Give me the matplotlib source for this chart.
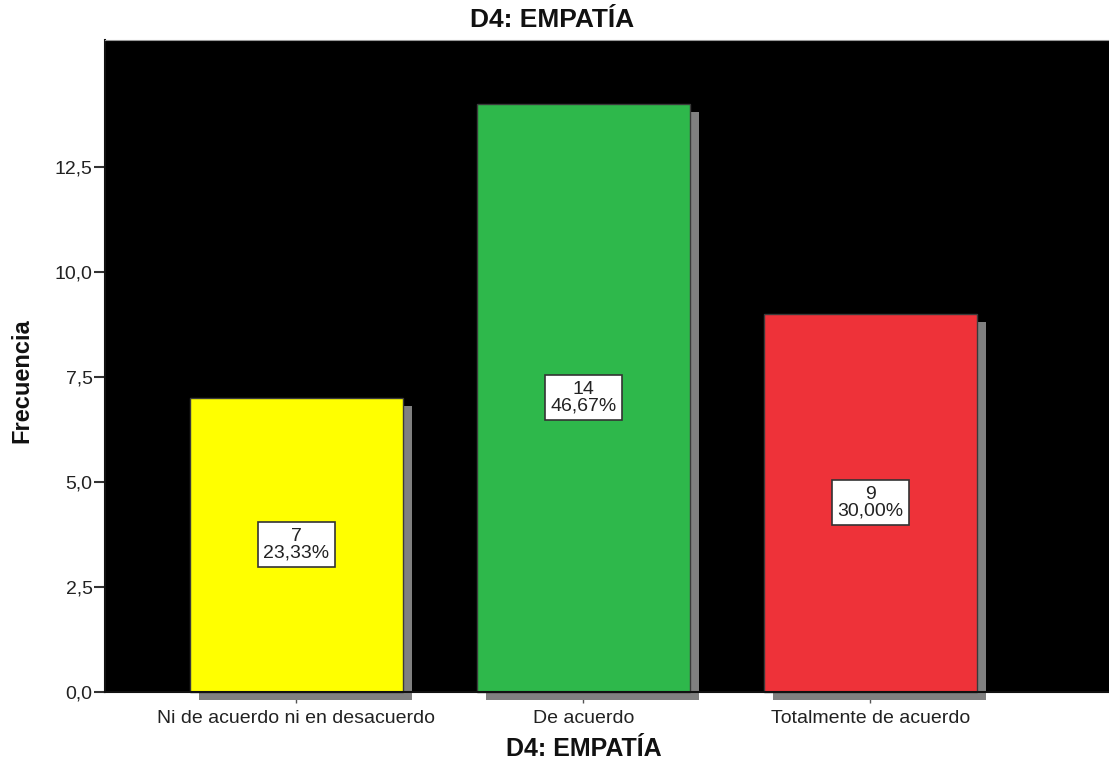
import matplotlib
matplotlib.use('Agg')
import matplotlib.pyplot as plt
import matplotlib.patheffects as pe
from matplotlib.ticker import FuncFormatter
from matplotlib.transforms import blended_transform_factory

# DATA
categorias = ['Ni de acuerdo ni en desacuerdo', 'De acuerdo', 'Totalmente de acuerdo']
frecuencias = [7, 14, 9]
porcentajes = ['23,33%', '46,67%', '30,00%']
colores = ['#FFFF00', '#2EB84B', '#EE3239']
yticks = [0, 2.5, 5, 7.5, 10, 12.5]
titulo = 'D4: EMPATÍA'

plt.rcParams['font.family'] = ['Liberation Sans', 'DejaVu Sans']

fig = plt.figure(figsize=(11.09, 7.64), dpi=100)
ax = fig.add_axes([0.0947, 0.0942, 0.9053, 0.8534])
ax.set_facecolor('black')

x = list(range(len(categorias)))
sombra = [pe.SimplePatchShadow(offset=(6.5, -5.8), shadow_rgbFace='#808080', alpha=1.0),
          pe.Normal()]
barras = ax.bar(x, frecuencias, width=0.742, color=colores, edgecolor='#3a3a3a',
                linewidth=1.0, zorder=2, clip_on=False)
for b in barras:
    b.set_path_effects(sombra)

# etiquetas dentro de las barras
for xi, f, p in zip(x, frecuencias, porcentajes):
    ax.text(xi, f / 2, str(f) + '\n' + p, ha='center', va='center', fontsize=14,
            linespacing=0.95, color='#222222', zorder=5,
            bbox=dict(boxstyle='square,pad=0.3', facecolor='white',
                      edgecolor='#333333', linewidth=1.2))

ax.set_xlim(-0.667, 2.831)
ax.set_ylim(0, 15.51)
ax.set_yticks(yticks)
ax.yaxis.set_major_formatter(FuncFormatter(lambda v, pos: ('%.1f' % v).replace('.', ',')))
ax.set_xticks(x)
ax.set_xticklabels(categorias)

ax.tick_params(axis='y', length=8, width=1.5, color='#333333', labelsize=14,
               labelcolor='#222222', pad=1)
ax.tick_params(axis='x', length=8, width=1, color='#555555', labelsize=14,
               labelcolor='#222222', pad=5)

ax.spines['right'].set_visible(False)
ax.spines['top'].set_color('#999999')
ax.spines['left'].set_color('#111111')
ax.spines['left'].set_linewidth(1.5)
ax.spines['bottom'].set_color('#111111')
ax.spines['bottom'].set_linewidth(1.5)

# titulos
fig.text(0.498, 0.974, titulo, ha='center', va='center', fontsize=19,
         fontweight='bold', color='#111111')
ax.set_xlabel(titulo, fontsize=18, fontweight='bold', color='#111111')
ax.xaxis.set_label_coords(1, -0.0874, transform=blended_transform_factory(ax.transData, ax.transAxes))
ax.xaxis.label.set_va('center')
ax.set_ylabel('Frecuencia', fontsize=17, fontweight='bold', color='#111111')
ax.yaxis.set_label_coords(-0.0827, 0.477)
ax.yaxis.label.set_va('center')

plt.savefig('out.png', dpi=100, facecolor='white')
